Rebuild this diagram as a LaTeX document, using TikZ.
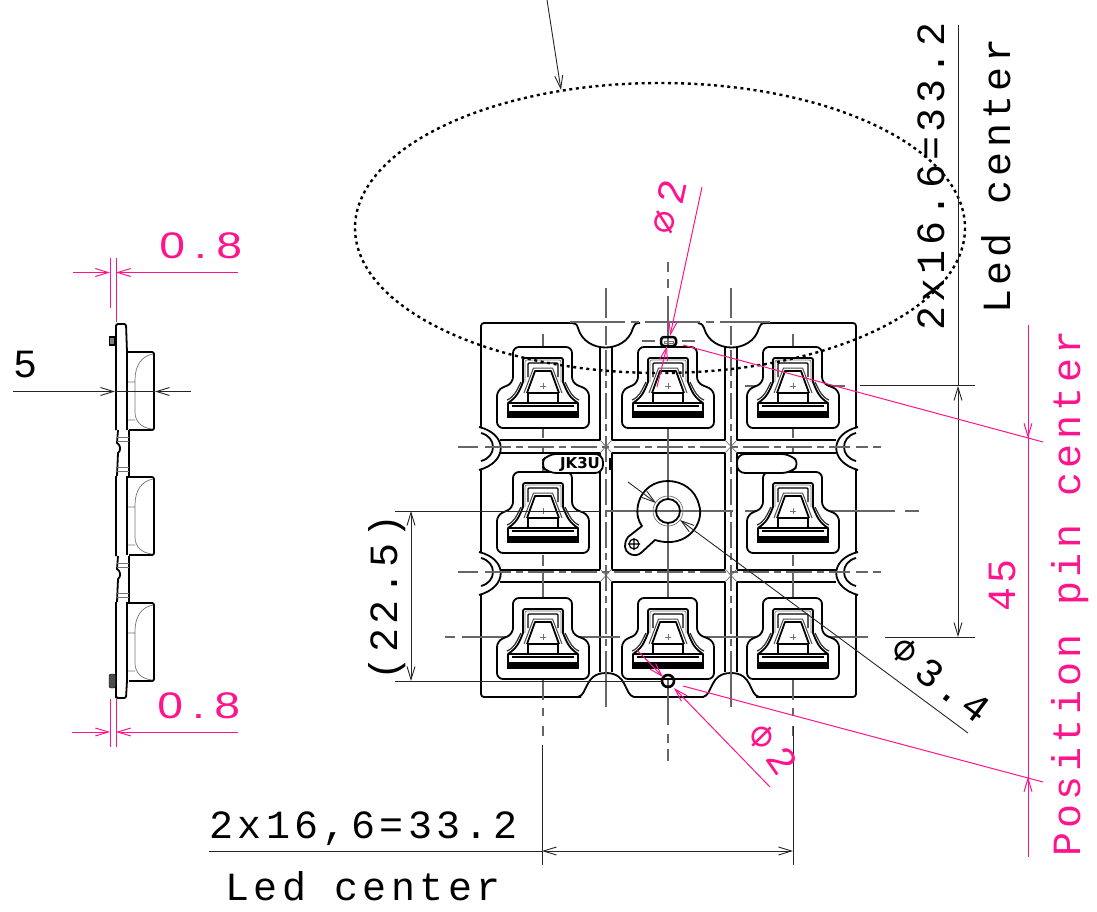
\documentclass[tikz,border=0pt]{standalone}
\usepackage{fontspec}
\usepackage{tikz}
\usetikzlibrary{arrows.meta}
\newfontfamily\dimfont[LetterSpace=11]{Liberation Mono}
\newfontfamily\gapfont[LetterSpace=20]{Liberation Sans}
\newfontfamily\phifont{DejaVu Sans}
\definecolor{dimpink}{RGB}{255,20,140}
\tikzset{
	part line/.style={line width=1.8pt,line join=round},
	fine line/.style={line width=0.7pt,black!55},
	center line/.style={line width=1.1pt,black!60},
	dim line/.style={line width=0.9pt,black!85},
	pink line/.style={line width=1pt,dimpink},
	dim text/.style={font=\dimfont\fontsize{40}{40}\selectfont,inner sep=0pt,anchor=base west},
	gap text/.style={font=\gapfont\fontsize{37}{37}\selectfont,text=dimpink,inner sep=0pt,anchor=base west,xscale=1.25,transform shape},
	phi text/.style={font=\phifont\fontsize{38}{38}\selectfont,inner sep=0pt},
	ledcell/.pic={
		\draw[part line,fill=white,rounded corners=6pt] (-30,-39) -- (29,-39) -- (29,-3) -- (46,4) -- (46,42) -- (-46,42) -- (-46,4) -- (-30,-3) -- cycle;
		\draw[part line,rounded corners=2pt] (-20,-4) -- (-20,-28) -- (20,-28) -- (20,-4);
		\draw[fine line,rounded corners=2pt] (-18,-4) -- (-18,-26) -- (18,-26) -- (18,-4);
		\draw[line width=1.2pt,rounded corners=1pt] (-15,-9) -- (-15,-23) -- (15,-23) -- (15,-9);
		\draw[part line] (-16,7) -- (-8,-15) -- (8,-15) -- (16,7);
		\draw[line width=1pt,black!70] (-19,7) -- (-9.5,-18) -- (9.5,-18) -- (19,7);
		\draw[line width=1.2pt] (-16,7) -- (16,7) (-15,7) -- (-15,17) (15,7) -- (15,17);
		\draw[part line] (-20,-4) .. controls (-24,6) and (-26,11) .. (-35,17) -- (35,17) .. controls (26,11) and (24,6) .. (20,-4);
		\draw[line width=1.2pt,black!80] (-22,-4) .. controls (-27,6) and (-29,11) .. (-36,14) (22,-4) .. controls (27,6) and (29,11) .. (36,14);
		\draw[line width=1.2pt] (-35,17) -- (-35,31) -- (35,31) -- (35,17) (-31,20) -- (31,20);
		\fill (-36,25) rectangle (36,32);
		\draw[fine line] (-3,0) -- (3,0) (0,-3) -- (0,3);
	},
	ledside/.pic={
		\draw[part line,rounded corners=2pt] (127,0) -- (154,0) -- (154,78) -- (129,78);
		\draw[line width=2.4pt] (127,-1) -- (127,78);
		\draw[fine line] (153,2) .. controls (142,4) and (135,13) .. (135,28) -- (135,60) .. controls (135,70) and (142,76) .. (152,77) (128,30) -- (135,30) (128,68) -- (135,68);
	},
}
\begin{document}
\begin{tikzpicture}[x=1pt,y=-1pt,>={Straight Barb[length=13pt,width=8pt]}]
	\useasboundingbox (0,0) rectangle (1097,912);
	
	% side view
	\foreach \ypos in {352,477,603}
		\pic at (0,\ypos) {ledside};
	\draw[part line,rounded corners=1.5pt] (116,698) -- (116,602) (116,556) -- (116,476) (116,430) -- (116,324) -- (126,324) -- (127,352);
	\draw[part line,rounded corners=1.5pt] (116,688) -- (116,698) -- (126,698) -- (127,681);
	\draw[part line] (118,430) -- (117,443) .. controls (121,445) and (121,451) .. (118,453) -- (117,476);
	\draw[part line] (118,556) -- (117,569) .. controls (121,571) and (121,577) .. (118,579) -- (117,602);
	\draw[part line] (129,430) -- (129,477) (129,556) -- (129,603);
	\foreach \ypos in {430,556}{
		\draw[fine line] (117,\ypos+7) -- (129,\ypos+7) (117,\ypos+11) -- (129,\ypos+11) (117,\ypos+37) -- (129,\ypos+37) (117,\ypos+41) -- (129,\ypos+41);
	}
	\draw[line width=1.6pt,fill=black!50] (109.5,337) rectangle (115,345);
	\draw[fill=black!70,rounded corners=2pt] (109,674) rectangle (115.5,688);
	
	% main part
	\draw[part line,rounded corners=3pt] (481,427) -- (481,323) -- (572,323);
	\draw[part line] (572,323) .. controls (578,324) and (577,326) .. (578,328) .. controls (585,354) and (626,354) .. (633,328) .. controls (634,325) and (635,323) .. (640,323);
	\draw[part line] (698,323) .. controls (703,324) and (703,326) .. (704,328) .. controls (711,354) and (752,354) .. (759,328) .. controls (760,325) and (761,323) .. (766,323);
	\draw[part line,rounded corners=3pt] (766,323) -- (856,323) -- (856,427);
	\draw[part line] (481,433) .. controls (497,437) and (497,457) .. (481,461) (479,427) .. controls (508,434) and (508,462) .. (479,470);
	\draw[part line] (481,558) .. controls (497,562) and (497,582) .. (481,586) (479,552) .. controls (508,559) and (508,587) .. (479,595);
	\draw[part line] (856,433) .. controls (840,437) and (840,457) .. (856,461) (858,427) .. controls (829,434) and (829,462) .. (858,470);
	\draw[part line] (856,558) .. controls (840,562) and (840,582) .. (856,586) (858,552) .. controls (829,559) and (829,587) .. (858,595);
	\draw[part line] (481,470) -- (481,552) (856,470) -- (856,552);
	\draw[part line,rounded corners=3pt] (481,595) -- (481,697) -- (581,697);
	\draw[part line] (578,697) .. controls (588,695) and (584,673) .. (606,673) .. controls (628,673) and (624,695) .. (634,697) -- (703,697) .. controls (713,695) and (709,673) .. (731,673) .. controls (753,673) and (749,695) .. (759,697);
	\draw[part line,rounded corners=3pt] (756,697) -- (856,697) -- (856,595);
	
	% channels
	\foreach \ypos in {440,453,570,582}{
		\draw[part line] (500,\ypos) -- (600,\ypos) (612,\ypos) -- (725,\ypos) (737,\ypos) -- (836,\ypos);
	}
	\foreach \xpos in {600,612,725,737}{
		\draw[part line] (\xpos,347) -- (\xpos,440) (\xpos,453) -- (\xpos,570) (\xpos,582) -- (\xpos,672);
	}
	\foreach \xpos in {606,731}{
		\foreach \ypos in {447,576}{
			\draw[fine line] (\xpos-6,\ypos-7) -- (\xpos+6,\ypos+6) (\xpos+6,\ypos-7) -- (\xpos-6,\ypos+6);
		}
	}
	
	% center lines
	\foreach \xpos in {543,793}{
		\draw[center line] (\xpos,334) -- (\xpos,438) (\xpos,446) -- (\xpos,452) (\xpos,459) -- (\xpos,548) (\xpos,555) -- (\xpos,566) (\xpos,573) -- (\xpos,700) (\xpos,708) -- (\xpos,716) (\xpos,726) -- (\xpos,736);
	}
	\draw[center line] (668,262) -- (668,272) (668,279) -- (668,288) (668,296) -- (668,500) (668,522) -- (668,725) (668,734) -- (668,743) (668,749) -- (668,761);
	\foreach \xpos in {606,731}{
		\draw[center line] (\xpos,288) -- (\xpos,318) (\xpos,326) -- (\xpos,345);
		\draw[center line,dash pattern=on 26pt off 5pt on 7pt off 5pt] (\xpos,350) -- (\xpos,672);
		\draw[center line] (\xpos,672) -- (\xpos,707);
	}
	\foreach \ypos in {447,572}{
		\draw[center line] (458,\ypos) -- (478,\ypos);
		\draw[center line,dash pattern=on 26pt off 5pt on 7pt off 5pt] (485,\ypos) -- (850,\ypos);
		\draw[center line] (856,\ypos) -- (868,\ypos) (873,\ypos) -- (881,\ypos);
	}
	\draw[center line,dash pattern=on 55pt off 6pt on 8pt off 6pt] (570,322) -- (770,322);
	\draw[center line] (642,341) -- (655,341) (682,341) -- (695,341);
	\draw[center line] (745,386) -- (768,386) (786,386) -- (845,386);
	\draw[center line] (605,511) -- (733,511) (745,511) -- (895,511) (905,511) -- (919,511);
	\draw[center line] (445,637) -- (455,637) (462,637) -- (620,637) (630,637) -- (700,637) (705,637) -- (868,637);
	
	% led cells
	\foreach \xpos/\ypos in {543/386,668/386,793/386,543/511,793/511,543/637,668/637,793/637}
		\pic at (\xpos,\ypos) {ledcell};
	
	% tags
	\draw[part line,fill=white,rounded corners=8pt] (603,473) -- (548,473) -- (540,464) -- (548,454) -- (603,454) -- cycle;
	\node[inner sep=0pt,font=\phifont\bfseries\fontsize{15}{15}\selectfont] (tag text) at (580,464) {JK3U};
	\draw[line width=3pt] (610,458) -- (610,470);
	\draw[part line,fill=white,rounded corners=8pt] (737,454) -- (790,454) -- (800,464) -- (790,473) -- (737,473) -- cycle;
	
	% bush with lug
	\draw[part line] (655,540) .. controls (688,550) and (705,522) .. (699,505) .. controls (692,474) and (645,472) .. (638,505) .. controls (636,515) and (639,522) .. (642,526) -- (628,537) .. controls (618,552) and (635,560) .. (642,552) -- cycle;
	\draw[part line] (668,511) circle (12);
	\draw[fine line] (668,511) circle (15);
	\draw[line width=1.2pt] (634,544) circle (5) (628,544) -- (640,544) (634,538) -- (634,550);
	
	% pins
	\draw[line width=2.5pt,rounded corners=3pt] (661,337) rectangle (676,346);
	\draw[fine line] (664,341) rectangle (673,343);
	\draw[line width=2.6pt] (668,681) circle (6);
	
	% black dimensions
	\coordinate (top tip) at (561,90);
	\draw[dim line,->] (547,0) -- (top tip);
	\draw[line width=2.4pt,dash pattern=on 3pt off 3.6pt] (660,228) ellipse (305 and 145);
	\draw[dim line] (958,25) -- (958,386);
	\draw[dim line,<->] (958,386) -- (958,637);
	\draw[dim line] (860,385) -- (975,385) (885,637) -- (975,637);
	\draw[dim line] (395,511) -- (600,511) (395,681) -- (662,681);
	\draw[dim line,<->] (411,511) -- (411,681);
	\draw[dim line] (542,745) -- (542,865) (793,726) -- (793,865);
	\draw[dim line] (209,851) -- (542,851);
	\draw[dim line,<->] (542,851) -- (793,851);
	\draw[dim line,->] (13,391.5) -- (115,391.5);
	\draw[dim line,->] (191,391.5) -- (155,391.5);
	\draw[dim line] (115,391.5) -- (155,391.5);
	\draw[dim line,->] (628,482) -- (656,503);
	\draw[dim line,->] (968,733) -- (680,520);
	
	% pink dimensions
	\draw[pink line] (110,258) -- (110,308) (116,258) -- (116,322);
	\draw[pink line,->] (73,272.5) -- (110,272.5);
	\draw[pink line,->] (238,272.5) -- (116,272.5);
	\draw[pink line] (110,699) -- (110,747) (116,699) -- (116,747);
	\draw[pink line,->] (72,732) -- (110,732);
	\draw[pink line,->] (238,732) -- (116,732);
	\draw[pink line,->] (702,187) -- (670,336);
	\draw[pink line,->] (657,387) -- (667,346);
	\draw[pink line,->] (770,787) -- (674,688);
	\draw[pink line,->] (637,650) -- (663,677);
	\draw[pink line] (683,345) -- (1043,442) (683,686) -- (1043,782);
	\draw[pink line] (1028,325) -- (1028,857);
	\draw[pink line,->] (1028,400) -- (1028,438);
	\draw[pink line,->] (1028,820) -- (1028,777);
	
	% labels
	\node[gap text] (top gap) at (159,258) {0.8};
	\node[gap text] (bottom gap) at (157,718) {0.8};
	\node[dim text] (side height) at (13,377) {5};
	\node[dim text] (width text) at (209,838) {2x16,6=33.2};
	\node[dim text] (width led) at (225,900) {Led center};
	\node[dim text,rotate=90] (height text) at (944,331) {2x16.6=33.2};
	\node[dim text,rotate=90] (height led) at (1010,314) {Led center};
	\node[dim text,rotate=90,text=dimpink] (pin text) at (1080,857) {Position pin center};
	\node[dim text,rotate=90,text=dimpink] (pin dist) at (1015,612) {45};
	\node[dim text,rotate=90] (hole dist) at (397,681) {(22.5)};
	\node[dim text,rotate=-37,anchor=center] (bush size) at (953,690) {3.4};
	\node[phi text] (bush phi) at (905,651) {⌀};
	\node[dim text,rotate=78,anchor=center,text=dimpink] (top pin size) at (672,192) {2};
	\node[phi text,rotate=78,text=dimpink] (top pin phi) at (665,222) {⌀};
	\node[dim text,rotate=-55,anchor=center,text=dimpink] (low pin size) at (782,761) {2};
	\node[phi text,text=dimpink] (low pin phi) at (762,737) {⌀};
\end{tikzpicture}
\end{document}
